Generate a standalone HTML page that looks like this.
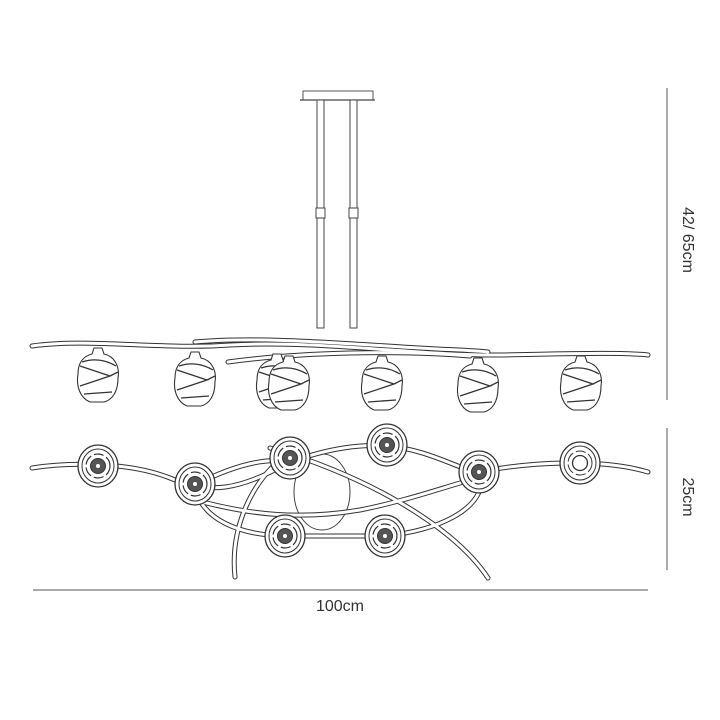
<!DOCTYPE html>
<html><head><meta charset="utf-8"><style>
html,body{margin:0;padding:0;background:#fff}
svg{display:block}
text{font-family:"Liberation Sans",sans-serif;fill:#333}
</style></head><body>
<svg width="720" height="720" viewBox="0 0 720 720" xmlns="http://www.w3.org/2000/svg">
<defs>
<g id="shade">
<path d="M-4,-14 L4,-14 L6,-8 C16,-6 22,4 20,16 C20,30 14,38 6,40 L-8,40 C-18,36 -22,24 -20,12 C-20,0 -14,-6 -6,-8 Z" fill="#fff" stroke="#333" stroke-width="1.1"/>
<path d="M-18,4 L12,14 L-18,24 M-14,32 L14,30 M-16,0 C-4,-4 8,-2 18,4 M12,14 L20,10" fill="none" stroke="#333" stroke-width="1.3"/>
</g>
<g id="disc">
<ellipse cx="0" cy="0" rx="20" ry="21" fill="#fff" stroke="#333" stroke-width="1.3"/>
<ellipse cx="0" cy="0" rx="16" ry="17" fill="none" stroke="#333" stroke-width="1"/>
<circle cx="0" cy="0" r="12" fill="none" stroke="#333" stroke-width="1.2" stroke-dasharray="10 3"/>
<circle cx="0" cy="0" r="7.5" fill="#555" stroke="#333"/>
<circle cx="0" cy="0" r="2" fill="#fff"/>
</g>
</defs>
<rect x="303" y="91" width="70" height="9" fill="#fff" stroke="#555" stroke-width="1"/>
<line x1="300" y1="100" x2="375" y2="100" stroke="#444" stroke-width="1.3"/>
<g stroke="#444" stroke-width="1" fill="#fff">
<rect x="317" y="100" width="7" height="228"/>
<rect x="350" y="100" width="7" height="228"/>
<rect x="316" y="208" width="9" height="10"/>
<rect x="349" y="208" width="9" height="10"/>
</g>
<g fill="none" stroke-linecap="round">
<g stroke="#333" stroke-width="5">
<path d="M32,346 C90,338 160,350 230,345 C320,340 420,356 500,355 C560,354 620,352 648,355"/>
<path d="M195,342 C260,336 350,344 420,348 C450,350 470,350 488,352"/>
<path d="M228,362 C300,352 400,350 470,356"/>
</g>
<g stroke="#fff" stroke-width="3">
<path d="M32,346 C90,338 160,350 230,345 C320,340 420,356 500,355 C560,354 620,352 648,355"/>
<path d="M195,342 C260,336 350,344 420,348 C450,350 470,350 488,352"/>
<path d="M228,362 C300,352 400,350 470,356"/>
</g>
</g>
<use href="#shade" x="98" y="362"/>
<use href="#shade" x="195" y="366"/>
<use href="#shade" x="277" y="368"/>
<use href="#shade" x="289" y="370"/>
<use href="#shade" x="382" y="370"/>
<use href="#shade" x="478" y="372"/>
<use href="#shade" x="581" y="370"/>
<ellipse cx="322" cy="492" rx="28" ry="38" fill="none" stroke="#444" stroke-width="1"/>
<g fill="none" stroke-linecap="round">
<g stroke="#333" stroke-width="5">
<path d="M32,468 C70,462 130,462 170,478 C210,495 240,490 290,462"/>
<path d="M290,462 C330,448 360,444 388,446 C430,450 460,470 478,472 C530,462 600,458 648,472"/>
<path d="M195,485 C240,462 270,458 290,462"/>
<path d="M195,485 C200,520 240,535 285,536 L385,536 C440,530 480,510 482,480"/>
<path d="M195,500 C250,515 300,520 360,510 C410,500 450,485 478,478"/>
<path d="M235,577 C230,530 250,480 290,452"/>
<path d="M270,448 C350,470 450,520 488,578"/>
</g>
<g stroke="#fff" stroke-width="3">
<path d="M32,468 C70,462 130,462 170,478 C210,495 240,490 290,462"/>
<path d="M290,462 C330,448 360,444 388,446 C430,450 460,470 478,472 C530,462 600,458 648,472"/>
<path d="M195,485 C240,462 270,458 290,462"/>
<path d="M195,485 C200,520 240,535 285,536 L385,536 C440,530 480,510 482,480"/>
<path d="M195,500 C250,515 300,520 360,510 C410,500 450,485 478,478"/>
<path d="M235,577 C230,530 250,480 290,452"/>
<path d="M270,448 C350,470 450,520 488,578"/>
</g>
</g>
<use href="#disc" x="98" y="466"/>
<use href="#disc" x="195" y="484"/>
<use href="#disc" x="290" y="458"/>
<use href="#disc" x="387" y="445"/>
<use href="#disc" x="479" y="472"/>
<use href="#disc" x="285" y="536"/>
<use href="#disc" x="385" y="536"/>
<g>
<ellipse cx="580" cy="463" rx="20" ry="21" fill="#fff" stroke="#333" stroke-width="1.3"/>
<ellipse cx="580" cy="463" rx="16" ry="17" fill="none" stroke="#333"/>
<circle cx="580" cy="463" r="12" fill="none" stroke="#333" stroke-dasharray="10 3"/>
<circle cx="580" cy="463" r="7.5" fill="#fff" stroke="#333" stroke-width="1.3"/>
</g>
<g stroke="#555" stroke-width="1">
<line x1="667" y1="88" x2="667" y2="400"/>
<line x1="667" y1="428" x2="667" y2="570"/>
<line x1="33" y1="590" x2="648" y2="590"/>
</g>
<text x="683" y="240" font-size="16" text-anchor="middle" transform="rotate(90 683 240)">42/ 65cm</text>
<text x="683" y="497" font-size="16" text-anchor="middle" transform="rotate(90 683 497)">25cm</text>
<text x="340" y="611" font-size="16" text-anchor="middle">100cm</text>
</svg>
</body></html>
